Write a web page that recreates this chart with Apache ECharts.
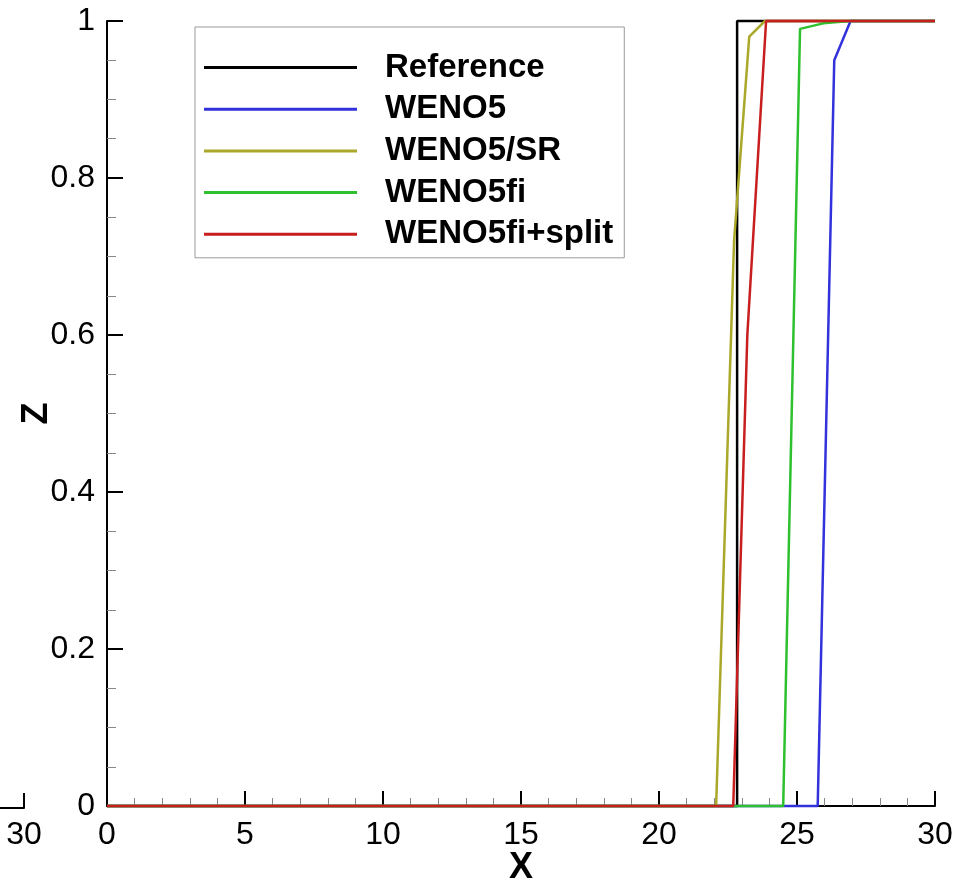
<!DOCTYPE html>
<html><head><meta charset="utf-8">
<script src="https://cdn.jsdelivr.net/npm/echarts@6/dist/echarts.min.js"></script>
<style>html,body{margin:0;padding:0;background:#fff}#c{width:968px;height:882px}</style>
</head><body><div id="c"></div>
<script>
// ---- data ----
const seriesNames = ['Reference', 'WENO5', 'WENO5/SR', 'WENO5fi', 'WENO5fi+split'];
const reference    = [[0, 0], [22.83, 0], [22.83, 1], [30, 1]];
const weno5        = [[0, 0], [25.75, 0], [26.35, 0.95], [26.94, 1], [30, 1]];
const weno5sr      = [[0, 0], [22.07, 0], [22.72, 0.72], [23.27, 0.98], [23.84, 1], [30, 1]];
const weno5fi      = [[0, 0], [24.5, 0], [25.11, 0.99], [25.95, 0.997], [26.9, 1], [30, 1]];
const weno5fiSplit = [[0, 0], [22.69, 0], [23.2, 0.6], [23.88, 1], [30, 1]];
const xRange = [0, 30, 5];   // min, max, interval
const zRange = [0, 1, 0.2];
const xName = 'X';
const zName = 'Z';
// fragment of a neighbouring panel's x axis visible at bottom-left
const fragRange = [29.13, 30];
const fragTicks = [30];

// ---- styling ----
const FONT = "'Liberation Sans', Arial, Helvetica, sans-serif";
const colors = ['#000000', '#3232dc', '#aaa82a', '#2ec02e', '#c81e1e'];
const allData = [reference, weno5, weno5sr, weno5fi, weno5fiSplit];

const chart = echarts.init(document.getElementById('c'), null, {renderer: 'canvas'});

const option = {
  backgroundColor: '#ffffff',
  animation: false,
  textStyle: {fontFamily: FONT},
  grid: [
    {left: 107, right: 33, top: 21, bottom: 76, containLabel: false, outerBoundsMode: 'none'},
    {left: 0, right: 944, top: 21, bottom: 74, containLabel: false, outerBoundsMode: 'none'}
  ],
  legend: {
    data: seriesNames,
    orient: 'vertical',
    left: 195, top: 27,
    icon: 'rect',
    itemWidth: 153, itemHeight: 3, itemGap: 8.7,
    padding: [24, 11, 7, 9],
    backgroundColor: '#fff',
    borderColor: '#9a9a9a', borderWidth: 1,
    selectedMode: false,
    textStyle: {fontSize: 33, fontWeight: 'bold', color: '#000', fontFamily: FONT,
                lineHeight: 32, padding: [0, 0, 0, 23]}
  },
  xAxis: [
    {
      type: 'value', gridIndex: 0,
      min: xRange[0], max: xRange[1], interval: xRange[2],
      name: xName, nameLocation: 'middle', nameGap: 44, nameMoveOverlap: false,
      nameTextStyle: {fontSize: 36, fontWeight: 'bold', color: '#000', fontFamily: FONT},
      axisLine: {show: true, onZero: false, lineStyle: {color: '#000', width: 2}},
      axisTick: {show: true, inside: true, length: 15, lineStyle: {color: '#000', width: 2}},
      minorTick: {show: true, splitNumber: 5, length: 8, lineStyle: {color: '#888', width: 1}},
      axisLabel: {show: true, fontSize: 32, color: '#000', fontFamily: FONT, margin: 13,
                  showMinLabel: true, showMaxLabel: true, hideOverlap: false},
      splitLine: {show: false}, minorSplitLine: {show: false}
    },
    {
      type: 'value', gridIndex: 1,
      min: fragRange[0], max: fragRange[1],
      axisLine: {show: true, onZero: false, lineStyle: {color: '#000', width: 2}},
      axisTick: {show: true, inside: true, length: 15, customValues: fragTicks,
                 lineStyle: {color: '#000', width: 2}},
      minorTick: {show: false},
      axisLabel: {show: true, fontSize: 32, color: '#000', fontFamily: FONT, margin: 11,
                  customValues: fragTicks, showMinLabel: false, showMaxLabel: true, hideOverlap: false},
      splitLine: {show: false}
    }
  ],
  yAxis: [
    {
      type: 'value', gridIndex: 0,
      min: zRange[0], max: zRange[1], interval: zRange[2],
      name: zName, nameLocation: 'middle', nameGap: 52, nameRotate: 90, nameMoveOverlap: false,
      nameTextStyle: {fontSize: 36, fontWeight: 'bold', color: '#000', fontFamily: FONT},
      axisLine: {show: true, onZero: false, lineStyle: {color: '#000', width: 2}},
      axisTick: {show: true, inside: true, length: 16, lineStyle: {color: '#000', width: 2}},
      minorTick: {show: true, splitNumber: 4, length: 9, lineStyle: {color: '#888', width: 1}},
      axisLabel: {fontSize: 32, color: '#000', fontFamily: FONT, margin: 12,
                  showMinLabel: true, showMaxLabel: true, hideOverlap: false},
      splitLine: {show: false}
    },
    {type: 'value', gridIndex: 1, min: 0, max: 1, show: false}
  ],
  series: seriesNames.map((n, i) => ({
    name: n, type: 'line', xAxisIndex: 0, yAxisIndex: 0,
    data: allData[i], symbol: 'none', showSymbol: false, clip: false,
    lineStyle: {color: colors[i], width: 2.5},
    itemStyle: {color: colors[i]},
    emphasis: {disabled: true}, z: 2 + i
  }))
};
chart.setOption(option);
</script></body></html>
